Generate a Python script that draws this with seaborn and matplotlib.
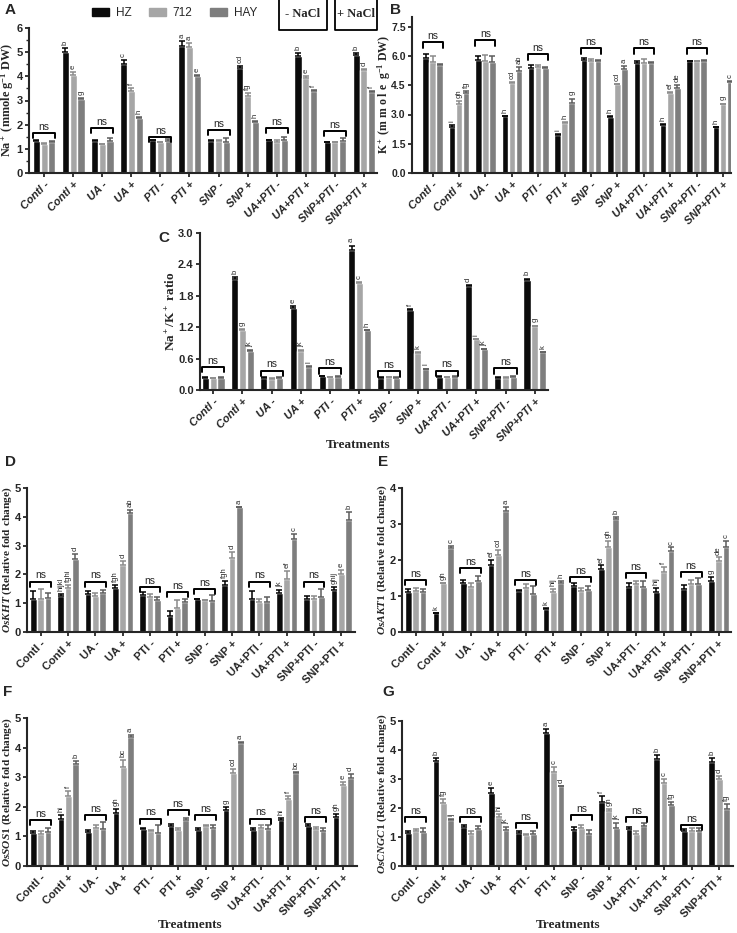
import numpy as np
import pandas as pd
import matplotlib.pyplot as plt
import seaborn as sns
from matplotlib.patches import Patch
from matplotlib.lines import Line2D
from matplotlib.ticker import MultipleLocator

sns.set_style("ticks")
plt.rcParams["font.family"] = ["Liberation Sans", "DejaVu Sans"]
plt.rcParams["mathtext.fontset"] = "custom"
plt.rcParams["mathtext.rm"] = "Liberation Serif:bold"
plt.rcParams["mathtext.it"] = "Liberation Serif:italic:bold"
plt.rcParams["mathtext.bf"] = "Liberation Serif:bold"
plt.rcParams["mathtext.default"] = "rm"

# -----------------------
# Data
# -----------------------

treatments = ["Contl -", "Contl +", "UA -", "UA +", "PTI -", "PTI +", "SNP -", "SNP +",
              "UA+PTI -", "UA+PTI +", "SNP+PTI -", "SNP+PTI +"]
cultivars = ["HZ", "712", "HAY"]
bar_colors = ["#0b0b0b", "#a6a6a6", "#7e7e7e"]
err_colors = ["#000000", "#8a8a8a", "#5c5c5c"]

# A: Na+
na_mean = [[1.32, 1.20, 1.27], [5.00, 4.05, 3.05], [1.31, 1.18, 1.32], [4.50, 3.40, 2.28],
           [1.35, 1.27, 1.33], [5.25, 5.22, 4.02], [1.33, 1.31, 1.29], [4.35, 3.20, 2.13],
           [1.35, 1.28, 1.35], [4.85, 3.95, 3.38], [1.27, 1.28, 1.33], [4.87, 4.27, 3.35]]
na_err = [[0.05, 0.03, 0.05], [0.17, 0.12, 0.04], [0.04, 0.03, 0.14], [0.17, 0.12, 0.03],
          [0.03, 0.03, 0.08], [0.20, 0.17, 0.04], [0.03, 0.06, 0.15], [0.07, 0.12, 0.04],
          [0.03, 0.07, 0.15], [0.13, 0.07, 0.05], [0.03, 0.02, 0.10], [0.08, 0.05, 0.04]]
na_let = ["", "b e g", "", "c f h", "", "a a e", "", "cd fg h", "", "b e f", "", "b d f"]
na_ns = [1.65, None, 1.85, None, 1.5, None, 1.78, None, 1.85, None, 1.75, None]

# B: K+
k_mean = [[5.88, 5.70, 5.55], [2.37, 3.55, 4.10], [5.82, 5.75, 5.70], [2.92, 4.62, 5.25],
          [5.38, 5.45, 5.38], [1.97, 2.57, 3.57], [5.82, 5.75, 5.72], [2.88, 4.55, 5.35],
          [5.65, 5.65, 5.65], [2.48, 4.12, 4.38], [5.72, 5.72, 5.75], [2.35, 3.52, 4.65]]
k_err = [[0.20, 0.30, 0.03], [0.08, 0.12, 0.08], [0.20, 0.30, 0.30], [0.02, 0.03, 0.20],
         [0.18, 0.08, 0.08], [0.02, 0.05, 0.25], [0.08, 0.10, 0.06], [0.02, 0.03, 0.12],
         [0.08, 0.20, 0.04], [0.03, 0.03, 0.12], [0.02, 0.02, 0.03], [0.02, 0.04, 0.05]]
k_let = ["", "i gh fg", "", "h cd ab", "", "i h g", "", "h cd a", "", "h ef de", "", "h g c"]
k_ns = [6.7, None, 6.8, None, 6.1, None, 6.4, None, 6.4, None, 6.4, None]

# C: Na+/K+ ratio
ratio_mean = [[0.23, 0.22, 0.23], [2.13, 1.15, 0.75], [0.23, 0.21, 0.23], [1.57, 0.75, 0.44],
              [0.26, 0.24, 0.25], [2.68, 2.05, 1.14], [0.23, 0.24, 0.23], [1.53, 0.71, 0.40],
              [0.25, 0.24, 0.25], [1.98, 0.97, 0.78], [0.23, 0.23, 0.25], [2.10, 1.22, 0.72]]
ratio_err = [[0.01, 0.01, 0.01], [0.02, 0.02, 0.01], [0.01, 0.01, 0.01], [0.03, 0.01, 0.01],
             [0.01, 0.01, 0.01], [0.08, 0.02, 0.01], [0.01, 0.01, 0.01], [0.02, 0.02, 0.01],
             [0.01, 0.01, 0.01], [0.03, 0.01, 0.01], [0.01, 0.01, 0.01], [0.03, 0.01, 0.01]]
ratio_let = ["", "b g jk", "", "e jk l", "", "a c h", "", "f k l", "", "d i jk", "", "b g k"]
ratio_ns = [0.44, None, 0.37, None, 0.42, None, 0.36, None, 0.37, None, 0.42, None]

# D: OsKHT
kht_mean = [[1.13, 1.13, 1.17], [1.24, 1.52, 2.52], [1.33, 1.25, 1.35], [1.52, 2.33, 4.12],
            [1.30, 1.20, 1.10], [0.57, 0.83, 1.03], [1.13, 1.10, 1.07], [1.62, 2.56, 4.33],
            [1.13, 1.03, 1.03], [1.35, 1.83, 3.22], [1.15, 1.15, 1.22], [1.47, 2.00, 3.90]]
kht_err = [[0.28, 0.38, 0.18], [0.07, 0.12, 0.18], [0.08, 0.12, 0.12], [0.10, 0.15, 0.12],
           [0.08, 0.12, 0.13], [0.17, 0.28, 0.10], [0.01, 0.01, 0.22], [0.14, 0.22, 0.02],
           [0.28, 0.12, 0.17], [0.12, 0.28, 0.18], [0.10, 0.10, 0.27], [0.10, 0.17, 0.27]]
kht_let = ["", "hijkl fghi d", "", "fgh d ab", "", "", "", "fgh d a", "", "jk ef c", "", "ghij e b"]
kht_ns = [1.75, None, 1.75, None, 1.57, 1.4, 1.5, None, 1.75, None, 1.75, None]

# E: OsAKT1
akt_mean = [[1.12, 1.15, 1.10], [0.53, 1.35, 2.33], [1.37, 1.25, 1.43], [1.87, 2.15, 3.35],
            [1.15, 1.22, 1.05], [0.65, 1.12, 1.35], [1.27, 1.15, 1.17], [1.75, 2.35, 3.15],
            [1.25, 1.32, 1.25], [1.12, 1.67, 2.25], [1.20, 1.32, 1.33], [1.43, 1.97, 2.37]]
akt_err = [[0.07, 0.07, 0.10], [0.01, 0.01, 0.07], [0.08, 0.12, 0.12], [0.12, 0.12, 0.13],
           [0.02, 0.10, 0.22], [0.01, 0.07, 0.07], [0.08, 0.07, 0.10], [0.10, 0.18, 0.05],
           [0.10, 0.10, 0.17], [0.10, 0.13, 0.10], [0.10, 0.12, 0.17], [0.10, 0.10, 0.17]]
akt_let = ["", "k gh c", "", "ef cd a", "", "k hij h", "", "ef gh b", "", "hij f c", "", "g de c"]
akt_ns = [1.44, None, 1.78, None, 1.45, None, 1.52, None, 1.63, None, 1.66, None]

# F: OsSOS1
sos_mean = [[1.12, 1.08, 1.15], [1.60, 2.37, 3.45], [1.15, 1.30, 1.25], [1.80, 3.35, 4.37],
            [1.25, 1.18, 1.13], [1.35, 1.22, 1.57], [1.22, 1.35, 1.30], [1.90, 3.15, 4.15],
            [1.20, 1.27, 1.25], [1.55, 2.25, 3.13], [1.35, 1.25, 1.18], [1.67, 2.72, 2.98]]
sos_err = [[0.06, 0.10, 0.15], [0.12, 0.17, 0.10], [0.05, 0.08, 0.22], [0.13, 0.22, 0.07],
           [0.05, 0.05, 0.27], [0.07, 0.05, 0.04], [0.07, 0.04, 0.08], [0.10, 0.12, 0.04],
           [0.08, 0.10, 0.15], [0.07, 0.12, 0.05], [0.08, 0.08, 0.10], [0.10, 0.13, 0.12]]
sos_let = ["", "hi f b", "", "gh bc a", "", "", "", "g cd a", "", "hi f bc", "", "gh e d"]
sos_ns = [1.55, None, 1.73, None, 1.6, 1.9, 1.73, None, 1.6, None, 1.66, None]

# G: OsCNGC1
cngc_mean = [[1.13, 1.22, 1.18], [3.63, 2.17, 1.57], [1.35, 1.12, 1.27], [2.52, 1.70, 1.25],
             [1.13, 1.07, 1.12], [4.57, 3.25, 2.75], [1.25, 1.30, 1.12], [2.22, 1.90, 1.32],
             [1.27, 1.12, 1.37], [3.70, 2.87, 2.12], [1.20, 1.20, 1.22], [3.58, 3.00, 1.98]]
cngc_err = [[0.07, 0.07, 0.13], [0.10, 0.15, 0.05], [0.07, 0.08, 0.10], [0.17, 0.10, 0.10],
            [0.07, 0.05, 0.08], [0.15, 0.17, 0.02], [0.08, 0.10, 0.12], [0.20, 0.08, 0.15],
            [0.07, 0.10, 0.12], [0.13, 0.13, 0.10], [0.07, 0.10, 0.10], [0.15, 0.12, 0.15]]
cngc_let = ["", "b fg ij", "", "e hi jk", "", "a c d", "", "f gh jk", "", "b c fg", "", "b d fg"]
cngc_ns = [1.68, None, 1.68, None, 1.48, None, 1.75, None, 1.7, None, 1.42, None]

# -----------------------
# Figure layout (pixels)
# -----------------------

W, H = 737, 933
fig = plt.figure(figsize=(W / 100, H / 100), dpi=100)


def box(l, t, r, b):
    return [l / W, 1 - b / H, (r - l) / W, (b - t) / H]


def draw_panel(rect, means, errs, letters, ns_y, ymax, ystep, ylabel, xlim,
               label_size, italic_ticks=False, minor=None, fmt=None, ytick_size=8,
               label_x=None):
    ax = fig.add_axes(box(*rect))
    df = pd.DataFrame({
        "treatment": np.repeat(treatments, 3),
        "cultivar": cultivars * len(treatments),
        "value": np.ravel(means),
    })
    sns.barplot(data=df, x="treatment", y="value", hue="cultivar",
                order=treatments, hue_order=cultivars, palette=bar_colors,
                saturation=1, errorbar=None, width=0.8, gap=0.08,
                legend=False, ax=ax)

    err = np.asarray(errs)
    pad = ymax * 0.02
    bar_groups = list(ax.containers)
    for h, cont in enumerate(bar_groups):
        for i, bar in enumerate(cont):
            xc = bar.get_x() + bar.get_width() / 2
            top = bar.get_height()
            e = err[i][h]
            ax.errorbar(xc, top, yerr=[[0], [e]], color=err_colors[h],
                        capsize=2, elinewidth=1.1, capthick=1.1)
            if letters[i]:
                ax.text(xc, top + e + pad, letters[i].split()[h], rotation=90,
                        ha="center", va="bottom", fontsize=5.5)

    d = ymax * 0.035
    for i, y in enumerate(ns_y):
        if y is None:
            continue
        ax.plot([i - 0.38, i - 0.38, i + 0.38, i + 0.38], [y - d, y, y, y - d],
                color="black", lw=1.4, clip_on=False)
        ax.text(i, y + ymax * 0.008, "ns", ha="center", va="bottom", fontsize=7.5)

    ax.set_xlim(*xlim)
    ax.set_ylim(0, ymax)
    ax.yaxis.set_major_locator(MultipleLocator(ystep))
    if minor:
        ax.yaxis.set_minor_locator(MultipleLocator(minor))
    if fmt:
        ax.yaxis.set_major_formatter(fmt)
    ax.set_xticks(range(len(treatments)))
    ax.set_xticklabels(treatments, rotation=45, ha="right", rotation_mode="anchor",
                       fontweight="bold", fontsize=8,
                       fontstyle="italic" if italic_ticks else "normal")
    for t in ax.get_yticklabels():
        t.set_fontweight("bold")
        t.set_fontsize(ytick_size)
    ax.set_xlabel("")
    ax.set_ylabel(ylabel, fontfamily="Liberation Serif", fontweight="bold",
                  fontsize=label_size, labelpad=0)
    if label_x is not None:
        ax.yaxis.set_label_coords((label_x - rect[0]) / (rect[2] - rect[0]), 0.5)
    sns.despine(ax=ax)
    for s in ["left", "bottom"]:
        ax.spines[s].set_linewidth(1.5)
    ax.tick_params(axis="both", width=1.3, length=3, pad=1.5)
    ax.tick_params(axis="y", which="minor", width=1.0, length=2)
    return ax


ax_a = draw_panel((29, 28, 377, 173), na_mean, na_err, na_let, na_ns, 6, 1,
                  r"Na$^+$ (mmole g$^{-1}$ DW)", (-0.52, 11.45), 8.8, True, minor=0.5)
ax_b = draw_panel((412, 17, 731, 173), k_mean, k_err, k_let, k_ns, 8.0, 1.5,
                  r"K$^+$ (m m o l e  g$^{-1}$ DW)", (-0.78, 11.3), 8.5, True,
                  fmt="{x:.1f}", ytick_size=7.5, label_x=393)
ax_c = draw_panel((200, 233, 548, 390), ratio_mean, ratio_err, ratio_let, ratio_ns, 3.0, 0.6,
                  r"Na$^+$/K$^+$ ratio", (-0.45, 11.45), 9.5, True, fmt="{x:.1f}")
ax_d = draw_panel((27, 488, 355, 632), kht_mean, kht_err, kht_let, kht_ns, 5, 1,
                  r"$\mathit{OsKHT}$ (Relative fold change)", (-0.5, 11.5), 8.2)
ax_e = draw_panel((402, 488, 731, 632), akt_mean, akt_err, akt_let, akt_ns, 4, 1,
                  r"$\mathit{OsAKT1}$ (Relative fold change)", (-0.5, 11.45), 8.2)
ax_f = draw_panel((27, 718, 357, 866), sos_mean, sos_err, sos_let, sos_ns, 5, 1,
                  r"$\mathit{OsSOS1}$ (Relative fold change)", (-0.5, 11.5), 8.2)
ax_g = draw_panel((402, 721, 733, 866), cngc_mean, cngc_err, cngc_let, cngc_ns, 5, 1,
                  r"$\mathit{OsCNGC1}$ (Relative fold change)", (-0.5, 11.5), 8.2)

# -----------------------
# Panel letters and axis titles
# -----------------------

for letter, (px, py) in zip("ABCDEFG", [(5, 10), (390, 10), (158, 238), (5, 462),
                                       (378, 462), (3, 692), (382, 692)]):
    fig.text(px / W, 1 - py / H, letter, fontsize=11, fontweight="bold", va="center")

for px, py in [(358, 445), (190, 925), (568, 925)]:
    fig.text(px / W, 1 - py / H, "Treatments", fontfamily="Liberation Serif",
             fontweight="bold", fontsize=9.5, ha="center", va="center")

# -----------------------
# Legend and NaCl boxes
# -----------------------

handles = [Patch(facecolor=c, edgecolor=c) for c in bar_colors]
fig.legend(handles, cultivars, loc="center left", bbox_to_anchor=(92 / W, 1 - 13 / H),
           ncol=3, frameon=False, fontsize=8.5, handlelength=1.4, handleheight=0.75,
           handletextpad=0.6, columnspacing=1.5, borderpad=0, borderaxespad=0)

for (l, r), txt in zip([(279, 327), (335, 377)], ["- NaCl", "+ NaCl"]):
    fig.add_artist(Line2D([l / W, l / W, r / W, r / W], [1, 1 - 30 / H, 1 - 30 / H, 1],
                          transform=fig.transFigure, color="black", lw=1.3))
    fig.text((l + r) / 2 / W, 1 - 14 / H, txt, fontfamily="Liberation Serif",
             fontweight="bold", fontsize=9, ha="center", va="center")

fig.savefig("out.png", dpi=100)
